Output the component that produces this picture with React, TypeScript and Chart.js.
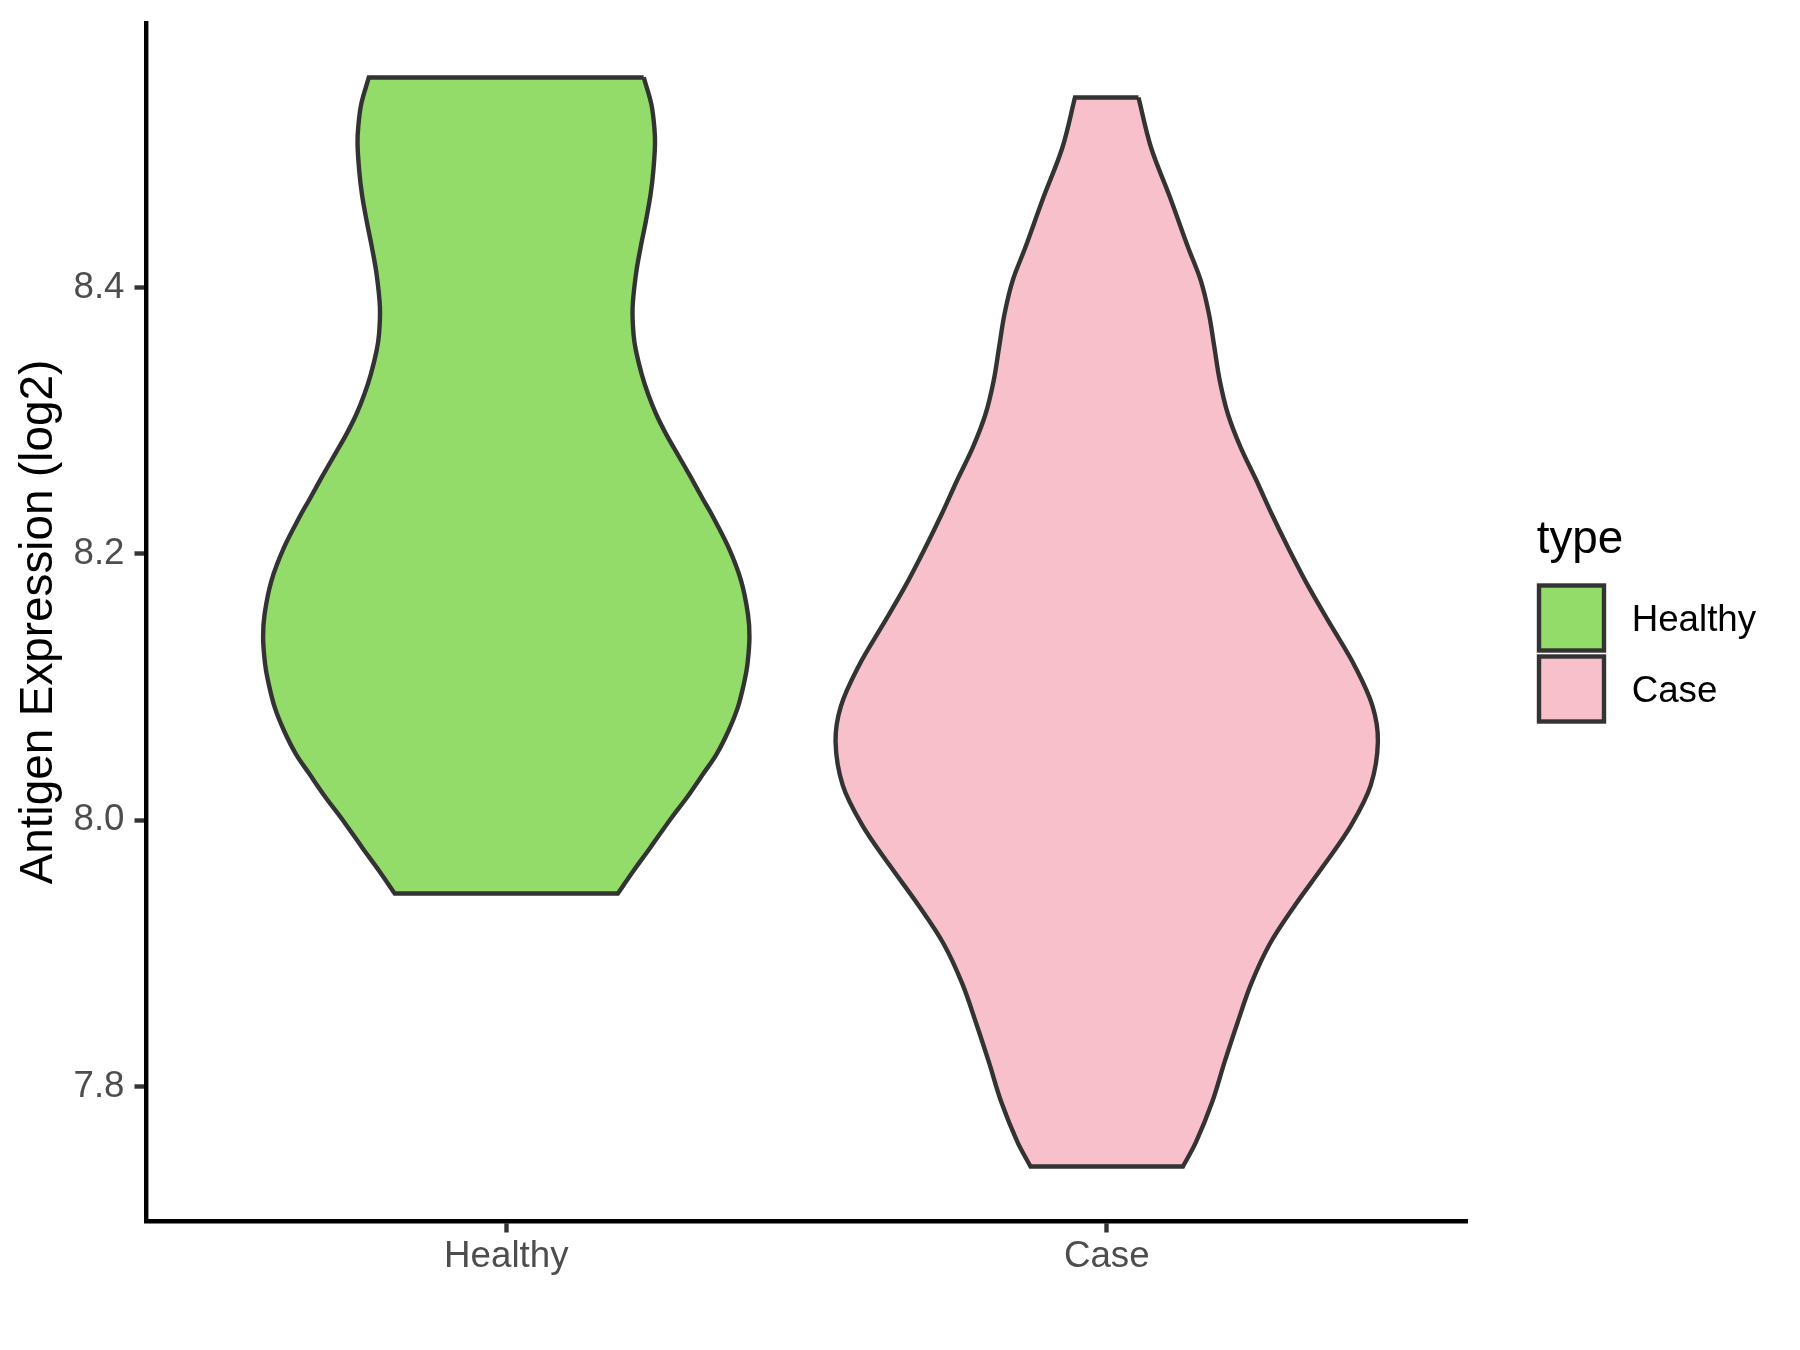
import React, { useEffect, useRef } from "react";
import { Chart, registerables } from "chart.js";

Chart.register(...registerables);

// ---- data ----
const categories = ["Healthy", "Case"];
const fillColors = ["#93DC6A", "#F7C0CB"];
const yTicks = [7.8, 8.0, 8.2, 8.4];
const yTitle = "Antigen Expression (log2)";
const legendTitle = "type";

// violin outlines: expression value (top -> bottom) and half-width (x units)
const healthyY = [8.5577, 8.5377, 8.5201, 8.5077, 8.4876, 8.4701, 8.4501, 8.43, 8.4101, 8.385, 8.365, 8.3525, 8.335, 8.32, 8.305, 8.2899, 8.2749, 8.2574, 8.2399, 8.2299, 8.2048, 8.1798, 8.1548, 8.1372, 8.1173, 8.1047, 8.0847, 8.0672, 8.0497, 8.0347, 8.0171, 8.0021, 7.9796, 7.9621, 7.945];
const healthyHalfWidth = [0.2289, 0.2416, 0.2466, 0.2477, 0.2449, 0.2404, 0.2326, 0.2237, 0.216, 0.2104, 0.2119, 0.216, 0.2255, 0.2362, 0.2495, 0.2662, 0.2852, 0.3075, 0.329, 0.3417, 0.3701, 0.3911, 0.4025, 0.405, 0.4017, 0.3968, 0.3856, 0.3701, 0.3503, 0.3277, 0.3008, 0.2755, 0.2401, 0.2119, 0.1858];

const caseY = [8.5426, 8.5051, 8.4676, 8.43, 8.405, 8.38, 8.355, 8.33, 8.305, 8.2799, 8.2549, 8.2299, 8.2048, 8.175, 8.1453, 8.1155, 8.0857, 8.0589, 8.0262, 7.9964, 7.9667, 7.9369, 7.9071, 7.8773, 7.8476, 7.8178, 7.788, 7.7583, 7.74];
const caseHalfWidth = [0.0529, 0.0738, 0.1055, 0.1356, 0.1568, 0.1703, 0.1793, 0.1883, 0.2018, 0.223, 0.2495, 0.2748, 0.302, 0.3365, 0.3748, 0.4134, 0.4427, 0.4516, 0.4396, 0.4072, 0.3624, 0.3147, 0.2715, 0.2406, 0.2175, 0.1958, 0.1753, 0.1486, 0.1269];

const FONT = '"Liberation Sans", Arial, Helvetica, sans-serif';

// closed outline; corner points are doubled so the smoothed curve keeps sharp corners
function outline(center: number, ys: number[], hw: number[]) {
  const right = ys.map((y, i) => ({ x: center + hw[i], y }));
  const left = ys.map((y, i) => ({ x: center - hw[i], y })).reverse();
  const rLast = right[right.length - 1];
  const lFirst = left[0];
  const lLast = left[left.length - 1];
  return [...right, { ...rLast }, { ...lFirst }, ...left, { ...lLast }, { ...right[0] }];
}

const legendPlugin = {
  id: "customLegend",
  afterDraw(chart: any) {
    const ctx = chart.ctx;
    ctx.save();
    ctx.textAlign = "left";
    ctx.textBaseline = "alphabetic";
    ctx.fillStyle = "#000000";
    ctx.font = `45.8px ${FONT}`;
    ctx.fillText(legendTitle, 1536.7, 553);
    categories.forEach((c, i) => {
      const cy = 618 + i * 71;
      ctx.fillStyle = fillColors[i];
      ctx.fillRect(1539, cy - 32.5, 65, 65);
      ctx.strokeStyle = "#333333";
      ctx.lineWidth = 4.4;
      ctx.lineJoin = "miter";
      ctx.strokeRect(1539, cy - 32.5, 65, 65);
      ctx.fillStyle = "#000000";
      ctx.font = `36.7px ${FONT}`;
      ctx.fillText(c, 1631.7, cy + 13.3);
    });
    ctx.restore();
  },
};

export default function App() {
  const canvasRef = useRef<HTMLCanvasElement | null>(null);

  useEffect(() => {
    if (!canvasRef.current) return;
    const allY = [...healthyY, ...caseY];
    const lo = Math.min(...allY);
    const hi = Math.max(...allY);
    const pad = (hi - lo) * 0.05;

    const series = [
      { ys: healthyY, hw: healthyHalfWidth },
      { ys: caseY, hw: caseHalfWidth },
    ];

    const chart = new Chart(canvasRef.current, {
      type: "scatter",
      data: {
        datasets: series.map((s, i) => ({
          label: categories[i],
          data: outline(i + 1, s.ys, s.hw),
          showLine: true,
          fill: "shape",
          backgroundColor: fillColors[i],
          borderColor: "#333333",
          borderWidth: 4.4,
          borderJoinStyle: "miter",
          pointRadius: 0,
          pointHoverRadius: 0,
          tension: 0.35,
        })) as any,
      },
      options: {
        animation: false,
        responsive: false,
        devicePixelRatio: 1,
        events: [],
        layout: { padding: { top: 23, right: 333, left: 0, bottom: 0 } },
        plugins: {
          legend: { display: false },
          tooltip: { enabled: false },
          title: { display: false },
        },
        scales: {
          x: {
            type: "linear",
            min: 0.4,
            max: 2.6,
            afterBuildTicks: (scale: any) => {
              scale.ticks = categories.map((_, i) => ({ value: i + 1 }));
            },
            afterFit: (scale: any) => {
              scale.height = 129;
              scale.paddingLeft = 0;
              scale.paddingRight = 0;
            },
            border: { display: true, color: "#000000", width: 4.4 },
            grid: {
              display: true,
              drawOnChartArea: false,
              drawTicks: true,
              tickLength: 11.5,
              tickWidth: 4.4,
              tickColor: "#333333",
              color: "rgba(0,0,0,0)",
            },
            ticks: {
              autoSkip: false,
              maxRotation: 0,
              padding: 2,
              color: "#4D4D4D",
              font: { family: FONT, size: 36.7 },
              callback: (v: any) => categories[Math.round(Number(v)) - 1] ?? "",
            },
          },
          y: {
            type: "linear",
            min: lo - pad,
            max: hi + pad,
            afterBuildTicks: (scale: any) => {
              scale.ticks = yTicks.map((v) => ({ value: v }));
            },
            afterFit: (scale: any) => {
              scale.width = 146;
              scale.paddingTop = 0;
              scale.paddingBottom = 0;
            },
            border: { display: true, color: "#000000", width: 4.4 },
            grid: {
              display: true,
              drawOnChartArea: false,
              drawTicks: true,
              tickLength: 11.5,
              tickWidth: 4.4,
              tickColor: "#333333",
              color: "rgba(0,0,0,0)",
            },
            ticks: {
              padding: 10,
              color: "#4D4D4D",
              font: { family: FONT, size: 36.7 },
              callback: (v: any) => Number(v).toFixed(1),
            },
            title: {
              display: true,
              text: yTitle,
              color: "#000000",
              font: { family: FONT, size: 45.8 },
              padding: { top: 11.5, bottom: 0 },
            },
          },
        },
      },
      plugins: [legendPlugin],
    });

    return () => chart.destroy();
  }, []);

  return (
    <div style={{ position: "absolute", left: 0, top: 0, width: 1800, height: 1350, background: "#ffffff" }}>
      <canvas ref={canvasRef} width={1800} height={1350} style={{ width: 1800, height: 1350, display: "block" }} />
    </div>
  );
}
